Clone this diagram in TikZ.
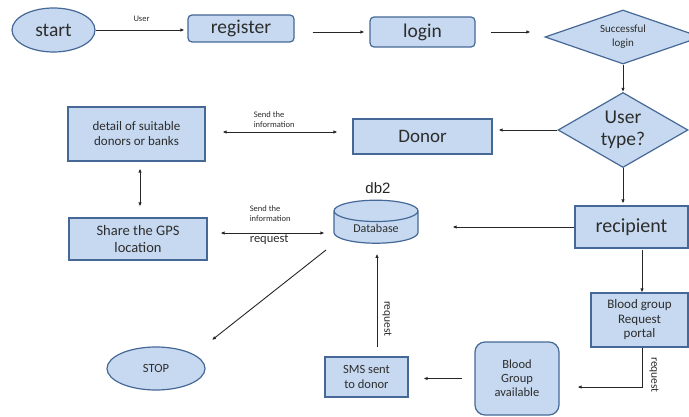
\documentclass[tikz,border=0pt]{standalone}
\usepackage{fontspec}
\setmainfont{Carlito}
\newfontfamily\arialf{Liberation Sans}
\usetikzlibrary{shapes.geometric,calc,arrows.meta}
\definecolor{boxfill}{RGB}{198,217,240}
\definecolor{boxline}{RGB}{70,104,150}
\definecolor{txt}{RGB}{45,45,45}
\begin{document}
\begin{tikzpicture}[x=1pt,y=-1pt,
  base/.style={draw=boxline,fill=boxfill,line width=1.2pt,text=txt,inner sep=1pt,align=center},
  rbox/.style={base,rectangle,rounded corners=4pt},
  sbox/.style={base,rectangle},
  oval/.style={base,ellipse},
  dia/.style={base,diamond},
  conn/.style={line width=0.9pt,draw=black!85,-{Latex[length=4pt,width=3.5pt]}},
  dconn/.style={line width=0.9pt,draw=black!85,{Latex[length=4pt,width=3.5pt]}-{Latex[length=4pt,width=3.5pt]}},
  small/.style={font=\fontsize{8.5}{10.5}\selectfont,text=txt,inner sep=0pt,align=left},
  rlabel/.style={font=\fontsize{11.5}{12}\selectfont,text=txt,inner sep=0pt,rotate=-90}
]
\useasboundingbox (0,0) rectangle (689,417);
\fill[white] (0,0) rectangle (689,417);

\node[oval,minimum width=83pt,minimum height=44pt,font=\fontsize{19.5}{21}\selectfont] (start) at (53.5,30) {start};
\node[rbox,minimum width=106pt,minimum height=27pt,font=\fontsize{19.5}{21}\selectfont] (register) at (241,28.5) {register};
\node[rbox,minimum width=105pt,minimum height=30pt,font=\fontsize{19.5}{21}\selectfont] (login) at (422.5,32) {login};
\node[dia,minimum width=156pt,minimum height=54pt,aspect=2.9,font=\fontsize{11}{14}\selectfont] (succ) at (623,37) {Successful\\login};
\node[dia,minimum width=130pt,minimum height=75pt,aspect=1.7,font=\fontsize{19.5}{21.5}\selectfont] (ut) at (623,130) {User\\type?};
\node[sbox,minimum width=139pt,minimum height=35pt,font=\fontsize{19}{21}\selectfont] (donor) at (422.5,136.5) {Donor};
\node[sbox,minimum width=113pt,minimum height=42pt,font=\fontsize{20}{22}\selectfont] (rec) at (631.5,227) {recipient};
\node[sbox,minimum width=137pt,minimum height=54pt,font=\fontsize{13}{15}\selectfont] (detail) at (136.5,134) {detail of suitable\\donors or banks};
\node[sbox,minimum width=138pt,minimum height=42pt,font=\fontsize{14.5}{17}\selectfont] (share) at (138,239) {Share the GPS\\location};
\node[base,cylinder,shape border rotate=90,aspect=0.45,minimum width=84pt,minimum height=43pt,font=\fontsize{12}{13}\selectfont] (db) at (376,228.5) {Database};
\node[font=\arialf\fontsize{15}{17}\selectfont,text=black!85,inner sep=0pt] (db2) at (378,188) {db2};
\node[oval,minimum width=98pt,minimum height=43pt,font=\fontsize{12.5}{14}\selectfont] (stop) at (156,368.5) {STOP};
\node[sbox,minimum width=83pt,minimum height=40pt,font=\fontsize{12.5}{15}\selectfont] (sms) at (366.5,377) {SMS sent\\to donor};
\node[base,rectangle,rounded corners=10pt,minimum width=84pt,minimum height=73pt,font=\fontsize{12.5}{14}\selectfont] (bga) at (517,378.5) {Blood\\Group\\available};
\node[sbox,minimum width=97pt,minimum height=54pt,font=\fontsize{13}{14.5}\selectfont] (portal) at (639.5,320) {Blood group\\Request\\portal};

% connectors
\draw[conn,shorten >=3pt] (start.east) -- (start.east -| register.west) node[midway,above=8pt,small] {User};
\draw[conn,shorten <=18pt,shorten >=5pt] (register.east |- login.west) -- (login.west);
\draw[conn,shorten <=15pt,shorten >=14pt] (login.east) -- (login.east -| succ.west);
\draw[conn] (succ.south) -- (ut.north);
\draw[conn,shorten >=6pt] (ut.west) -- (ut.west -| donor.east);
\draw[conn,shorten >=2pt] (ut.south) -- (ut.south |- rec.north);
\draw[dconn] ($(detail.east)+(17,-2)$) coordinate (dd1) -- ($(donor.west |- detail.east)+(-15,-2)$) coordinate (dd2);
\node[small,anchor=south west] (lab1) at ($(dd1)+(31,-4)$) {Send the\\information};
\draw[dconn] ($(detail.south)+(3.5,7)$) -- ($(detail.south |- share.north)+(3.5,-11)$);
\draw[dconn] ($(share.east)+(13,-6)$) coordinate (sd1) -- ($(db.west |- share.east)+(-9,-6)$) coordinate (sd2);
\node[small,anchor=south west] (lab2) at ($(sd1)+(29,-11)$) {Send the\\information};
\node[font=\fontsize{12.5}{13}\selectfont,text=txt,inner sep=0pt,anchor=north west] (lab3) at ($(sd1)+(29,1)$) {request};
\draw[conn,shorten >=34pt] (rec.west) -- (rec.west -| db.east);
\draw[conn] ($(db.center)+(-50,21.5)$) -- ($(stop.center)+(56,-28.5)$);
\draw[conn] ($(sms.north -| db.south)+(1,-9)$) -- ($(db.south)+(1,10)$) node[midway,right=10pt,rlabel] {request};
\draw[conn,shorten <=12pt,shorten >=15pt] (bga.west) -- (bga.west -| sms.east);
\draw[conn] ($(rec.south -| portal.north)+(2.5,1)$) -- ($(portal.north)+(2.5,0)$);
\draw[conn] ($(portal.south)+(2.5,0)$) |- ($(bga.east)+(18,8.5)$) coordinate (pe);
\node[rlabel] (lab4) at (654,375) {request};
\end{tikzpicture}
\end{document}
